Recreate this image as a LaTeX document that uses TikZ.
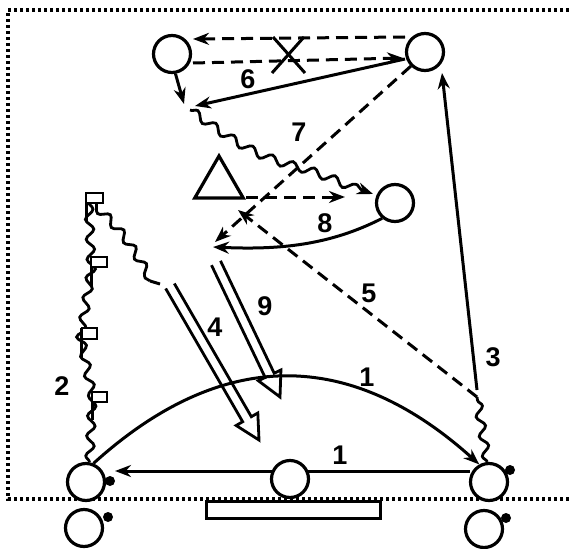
\documentclass[tikz,border=0pt]{standalone}
\usepackage{fontspec}
\setmainfont{Liberation Sans}
\usetikzlibrary{arrows.meta,decorations.pathmorphing,shapes.geometric,calc}
\tikzset{
  circ/.style={circle, draw, line width=3.2pt, minimum size=37pt, inner sep=0pt, fill=white},
  bdot/.style={circle, fill=black, inner sep=0pt, minimum size=10pt},
  ln/.style={line width=3pt},
  dsh/.style={line width=3pt, dash pattern=on 12pt off 7pt},
  arr/.style={-{Stealth[length=16pt,width=12pt]}},
  wavy/.style={line width=2.8pt, decorate, decoration={snake, amplitude=4pt, segment length=22pt, post length=8pt}},
  wavyplain/.style={line width=2.8pt, decorate, decoration={snake, amplitude=4pt, segment length=20pt}},
  lbl/.style={font=\bfseries\fontsize{27}{27}\selectfont, inner sep=0pt},
  framedots/.style={line width=3.2pt, dash pattern=on 3pt off 3pt},
  hollow/.style={line width=2.8pt, line join=miter, fill=white},
  flagbox/.style={line width=1.8pt, fill=white},
  pole/.style={line width=3pt},
}
\begin{document}
\begin{tikzpicture}[x=1pt,y=-1pt]
\useasboundingbox (0,0) rectangle (569,548);

% dotted frame
\coordinate (f1) at (569,10);
\coordinate (f2) at (8,10);
\coordinate (f3) at (8,499);
\coordinate (f4) at (569,499);
\draw[framedots] (f1) -- (f2) -- (f3) -- (f4);

% bench
\node[draw, line width=3pt, minimum width=174pt, minimum height=17pt, inner sep=0pt] (bench) at (293,509.5) {};

% coordinates of free ends
\coordinate (u1s) at (405,37);
\coordinate (u1e) at (193,39);
\coordinate (u2s) at (193,63);
\coordinate (u2e) at (403,58);
\coordinate (s6s) at (405,59);
\coordinate (s6e) at (195,106);
\coordinate (she) at (184,104);
\coordinate (w7s) at (190,110);
\coordinate (w7m) at (290,163);
\coordinate (w7e) at (373,194);
\coordinate (d1e) at (215,242);
\coordinate (t1s) at (246,197);
\coordinate (t1e) at (345,197);
\coordinate (c8e) at (213,247);
\coordinate (p5) at (477,397);
\coordinate (d5e) at (238,210);
\coordinate (l3s) at (477,390);
\coordinate (l3e) at (442,73);
\coordinate (a1s) at (470,471);
\coordinate (a1e) at (115,471);
\coordinate (a4s) at (170,286);
\coordinate (a4e) at (259,440);
\coordinate (a9s) at (216,263);
\coordinate (a9e) at (280,397);
\coordinate (wfs) at (88,200);
\coordinate (wfm) at (150,281);
\coordinate (wfe) at (160,284);
\coordinate (ch1) at (92,405);
\coordinate (ch2) at (80,345);
\coordinate (ch3) at (91,275);

% hollow double arrows
\coordinate (h4) at ($(a4e)!24pt!(a4s)$);
\draw[hollow] ($(a4s)!5pt!90:(a4e)$) -- ($(h4)!5pt!90:(a4e)$) -- ($(h4)!12.5pt!90:(a4e)$) -- (a4e)
   -- ($(h4)!12.5pt!-90:(a4e)$) -- ($(h4)!5pt!-90:(a4e)$) -- ($(a4s)!5pt!-90:(a4e)$);
\coordinate (h9) at ($(a9e)!24pt!(a9s)$);
\draw[hollow] ($(a9s)!5pt!90:(a9e)$) -- ($(h9)!5pt!90:(a9e)$) -- ($(h9)!12.5pt!90:(a9e)$) -- (a9e)
   -- ($(h9)!12.5pt!-90:(a9e)$) -- ($(h9)!5pt!-90:(a9e)$) -- ($(a9s)!5pt!-90:(a9e)$);

% circles
\node[circ] (A) at (172,54) {};
\node[circ] (B) at (425,52) {};
\node[circ] (M) at (395,203) {};
\node[circ] (BL) at (86,482) {};
\node[circ] (BR) at (489,482) {};
\node[circ] (BL2) at (84,528) {};
\node[circ] (BR2) at (484,529) {};

% arc 1
\draw[ln, arr] (BL.68) .. controls (222,347) and (350,348) .. (BR.119);
% straight 1
\draw[ln, arr] (a1s) -- (a1e);
\node[circ] (BM) at (290,479) {};

\node[bdot] (dBL) at (110,481) {};
\node[bdot] (dBR) at (510,470) {};
\node[bdot] (dBL2) at (108,517) {};
\node[bdot] (dBR2) at (506,518) {};

% triangle
\node[regular polygon, regular polygon sides=3, draw, line width=3.2pt, minimum size=56pt, inner sep=0pt] (T) at (219,184) {};

% top dashed pair and cross
\draw[dsh, arr] (u1s) -- (u1e);
\draw[dsh, arr] (u2s) -- (u2e);
\coordinate (x1) at (273,37);
\coordinate (x2) at (305,73);
\coordinate (x3) at (304,37);
\coordinate (x4) at (272,73);
\draw[ln] (x1) -- (x2);
\draw[ln] (x3) -- (x4);

% 6 and short arrow
\draw[ln, arr] (s6s) -- (s6e);
\draw[ln, arr] (A.-80) -- (she);

% wavy 7
\draw[wavy, arr] (w7s) to[out=-35,in=165] (w7m) to[out=-15,in=160] (w7e);

% dashed from B
\draw[dsh, arr] (B.-135) -- (d1e);
% dashed from triangle
\draw[dsh, arr] (t1s) -- (t1e);
% curve 8
\draw[ln, arr] (M.-130) .. controls (330,245) and (280,250) .. (c8e);
% dashed 5
\draw[dsh, arr] (p5) -- (d5e);
% line 3
\draw[ln, arr] (l3s) -- (l3e);
% wavy at right
\draw[wavyplain] (BR.95) -- (p5);

% left wavy chain with flags
\draw[wavyplain] (BL.80) -- (ch1) -- (ch2) -- (ch3) -- (wfs);
\draw[wavyplain] (wfs) to[out=-40,in=120] (wfm);
\draw[ln] (wfm) -- (wfe);

\draw[pole] (86,193) -- (86,222);
\draw[flagbox] (86,193) rectangle (103,203);
\draw[pole] (91,257) -- (91,287);
\draw[flagbox] (91,257) rectangle (107,267);
\draw[pole] (81,328) -- (81,357);
\draw[flagbox] (82,328) rectangle (97,339);
\draw[pole] (92,392) -- (92,420);
\draw[flagbox] (92,392) rectangle (107,402);

% labels
\node[lbl] (L6) at (248,79) {6};
\node[lbl] (L7) at (299,132) {7};
\node[lbl] (L8) at (325,223) {8};
\node[lbl] (L9) at (265,306) {9};
\node[lbl] (L4) at (215,327) {4};
\node[lbl] (L5) at (369,293) {5};
\node[lbl] (L3) at (493,357) {3};
\node[lbl] (L2) at (62,386) {2};
\node[lbl] (L1a) at (367,377) {1};
\node[lbl] (L1b) at (340,455) {1};
\end{tikzpicture}
\end{document}
